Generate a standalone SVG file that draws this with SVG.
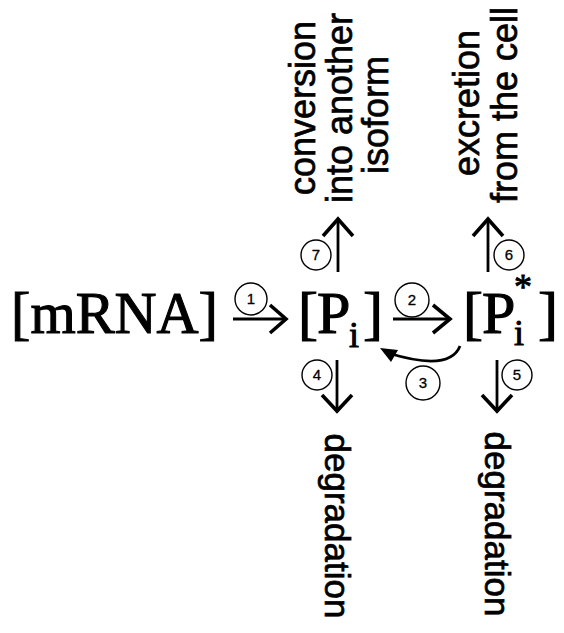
<svg xmlns="http://www.w3.org/2000/svg" width="564" height="633" viewBox="0 0 564 633">
<style>
.big{font-family:"Liberation Serif","Times New Roman",serif;font-size:60px;fill:#000;stroke:#000;stroke-width:1.1}
.sub{font-family:"Liberation Serif","Times New Roman",serif;font-size:36px;fill:#000;stroke:#000;stroke-width:0.9}
.lbl{font-family:"Liberation Sans",Arial,sans-serif;font-size:36px;fill:#000;stroke:#000;stroke-width:0.7}
.num{font-family:"Liberation Sans",Arial,sans-serif;font-size:15px;fill:#000;text-anchor:middle;stroke:#000;stroke-width:0.3}
.circ{fill:none;stroke:#000;stroke-width:1.4}
.ln{fill:none;stroke:#000;stroke-width:2.8}
.hd{fill:none;stroke:#000;stroke-width:3.6;stroke-linejoin:miter;stroke-linecap:butt}
</style>
<rect width="564" height="633" fill="#fff"/>
<g id="mRNA"><text class="big" x="11" y="333" textLength="207" lengthAdjust="spacingAndGlyphs">[mRNA]</text></g>
<g id="Pi">
<text class="big" x="298" y="333">[</text>
<text class="big" x="317" y="333">P</text>
<text class="sub" x="349" y="347">i</text>
<text class="big" x="363" y="333">]</text>
</g>
<g id="PiStar">
<text class="big" x="463" y="333">[</text>
<text class="big" x="482" y="333">P</text>
<text class="sub" x="514" y="345">i</text>
<text class="sub" x="514" y="299">*</text>
<text class="big" x="538" y="333">]</text>
</g>
<g id="conversion">
<text class="lbl" text-anchor="middle" transform="translate(315,108) rotate(-90)">conversion</text>
<text class="lbl" text-anchor="middle" transform="translate(352,108) rotate(-90)">into another</text>
<text class="lbl" text-anchor="middle" transform="translate(388,115) rotate(-90)">isoform</text>
</g>
<g id="excretion">
<text class="lbl" text-anchor="middle" transform="translate(479,103) rotate(-90)">excretion</text>
<text class="lbl" text-anchor="middle" transform="translate(517,105) rotate(-90)">from the cell</text>
</g>
<g id="degradation1"><text class="lbl" style="font-size:35px" text-anchor="middle" transform="translate(325,526) rotate(90)">degradation</text></g>
<g id="degradation2"><text class="lbl" style="font-size:35px" text-anchor="middle" transform="translate(485,524) rotate(90)">degradation</text></g>
<g id="connectors">
<line class="ln" x1="233" y1="319" x2="285" y2="319"/>
<polyline class="hd" points="270,305 286,319 270,333"/>
<circle class="circ" cx="251" cy="299" r="16"/><text class="num" x="251" y="304">1</text>
<line class="ln" x1="393" y1="319" x2="449" y2="319"/>
<polyline class="hd" points="433,305 450,319 433,333"/>
<circle class="circ" cx="412" cy="300" r="17"/><text class="num" x="412" y="305">2</text>
<line class="ln" x1="338" y1="272" x2="338" y2="220"/>
<polyline class="hd" points="323,236 338,219 353,236"/>
<circle class="circ" cx="316" cy="255" r="15"/><text class="num" x="316" y="260">7</text>
<line class="ln" x1="488" y1="272" x2="488" y2="220"/>
<polyline class="hd" points="473,236 488,219 503,236"/>
<circle class="circ" cx="509" cy="255" r="15"/><text class="num" x="509" y="260">6</text>
<line class="ln" x1="337" y1="360" x2="337" y2="410"/>
<polyline class="hd" points="322,395 337,411 352,395"/>
<circle class="circ" cx="317" cy="375" r="15"/><text class="num" x="317" y="380">4</text>
<line class="ln" x1="497" y1="360" x2="497" y2="410"/>
<polyline class="hd" points="482,395 497,411 512,395"/>
<circle class="circ" cx="517" cy="375" r="15"/><text class="num" x="517" y="380">5</text>
<path class="ln" d="M460,346 Q450,372 388,353"/>
<polygon points="380,348 398,350 391,362" fill="#000"/>
<circle class="circ" cx="423" cy="383" r="17"/><text class="num" x="423" y="388">3</text>
</g>
</svg>
